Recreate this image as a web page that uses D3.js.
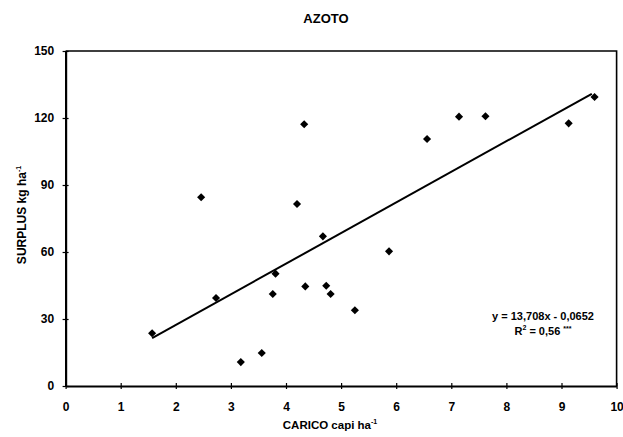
<!DOCTYPE html>
<html>
<head>
<meta charset="utf-8">
<script src="https://cdn.jsdelivr.net/npm/d3@7"></script>
<style>
	body { margin: 0; background: #fff; }
	text { font-family: "Liberation Sans", Arial, sans-serif; font-weight: bold; fill: #000; }
</style>
</head>
<body>
<div id="chart"></div>
<script>
// ----------------------------------------
// DATA

var title = "AZOTO";
var carico = [1.57, 2.46, 2.73, 3.18, 3.56, 3.81, 3.76, 4.33, 4.20, 4.35, 4.67, 4.73, 4.81, 5.25, 5.87, 6.56, 7.14, 7.62, 9.13, 9.60];
var surplus = [23.6, 84.5, 39.4, 10.7, 14.8, 50.3, 41.2, 117.2, 81.5, 44.6, 67.0, 44.9, 41.2, 33.9, 60.3, 110.6, 120.6, 120.8, 117.6, 129.4];
var slope = 13.708;
var intercept = -0.0652;
var xTicks = [0, 1, 2, 3, 4, 5, 6, 7, 8, 9, 10];
var yTicks = [0, 30, 60, 90, 120, 150];

// ----------------------------------------
// CHART

var width = 623;
var height = 437;
var margin = {top: 51, right: 6.4, bottom: 51, left: 65.6};

var svg = d3.select("#chart").append("svg")
	.attr("width", width)
	.attr("height", height);

var xScale = d3.scaleLinear().domain([0, 10]).range([margin.left, width - margin.right]);
var yScale = d3.scaleLinear().domain([0, 150]).range([height - margin.bottom, margin.top]);

// frame (top and right)
svg.append("path")
	.attr("d", "M" + xScale(0) + "," + yScale(150) + "H" + xScale(10) + "V" + yScale(0))
	.attr("fill", "none")
	.attr("stroke", "#000")
	.attr("stroke-width", 1.6);

// axes
var xAxis = svg.append("g")
	.attr("transform", "translate(0," + yScale(0) + ")")
	.call(d3.axisBottom(xScale).tickValues(xTicks).tickSize(3).tickSizeOuter(0));
xAxis.selectAll("line").attr("y1", -3);
xAxis.selectAll("text").attr("dy", "1.55em").style("font-size", "12px");

var yAxis = svg.append("g")
	.attr("transform", "translate(" + xScale(0) + ",0)")
	.call(d3.axisLeft(yScale).tickValues(yTicks).tickSize(3).tickSizeOuter(0));
yAxis.selectAll("line").attr("x1", 3);
yAxis.selectAll("text").attr("dx", "-0.45em").style("font-size", "12px");

svg.selectAll(".domain").attr("stroke-width", 2.2);
svg.selectAll(".tick line").attr("stroke-width", 1.2);

// regression line
var xExt = d3.extent(carico);
var lineGen = d3.line()
	.x(function (d) { return xScale(d); })
	.y(function (d) { return yScale(slope * d + intercept); });
svg.append("path")
	.attr("d", lineGen([xExt[0], xExt[1] - 0.05]))
	.attr("fill", "none")
	.attr("stroke", "#000")
	.attr("stroke-width", 2);

// points
var diamond = d3.symbol().type(d3.symbolDiamond2).size(42);
svg.selectAll(".pt")
	.data(d3.range(carico.length))
	.enter().append("path")
	.attr("class", "pt")
	.attr("d", diamond)
	.attr("transform", function (i) { return "translate(" + xScale(carico[i]) + "," + yScale(surplus[i]) + ")"; })
	.attr("fill", "#000");

// title
svg.append("text")
	.attr("x", 326).attr("y", 23)
	.attr("text-anchor", "middle")
	.style("font-size", "13px")
	.text(title);

// axis labels
var xl = svg.append("text")
	.attr("x", 330).attr("y", 429)
	.attr("text-anchor", "middle")
	.style("font-size", "11.5px");
xl.append("tspan").text("CARICO capi ha");
xl.append("tspan").attr("dy", -5).style("font-size", "7px").text("-1");

var yl = svg.append("text")
	.attr("transform", "translate(26,215) rotate(-90)")
	.attr("text-anchor", "middle")
	.style("font-size", "12px");
yl.append("tspan").text("SURPLUS kg ha");
yl.append("tspan").attr("dy", -5).style("font-size", "7px").text("-1");

// equation
svg.append("text")
	.attr("x", 543).attr("y", 320)
	.attr("text-anchor", "middle")
	.style("font-size", "11px")
	.text("y = 13,708x - 0,0652");
var r2 = svg.append("text")
	.attr("x", 543).attr("y", 335)
	.attr("text-anchor", "middle")
	.style("font-size", "11px");
r2.append("tspan").text("R");
r2.append("tspan").attr("dy", -5).style("font-size", "7px").text("2");
r2.append("tspan").attr("dy", 5).text(" = 0,56 ");
r2.append("tspan").attr("dy", -4).style("font-size", "7px").text("***");
</script>
</body>
</html>
